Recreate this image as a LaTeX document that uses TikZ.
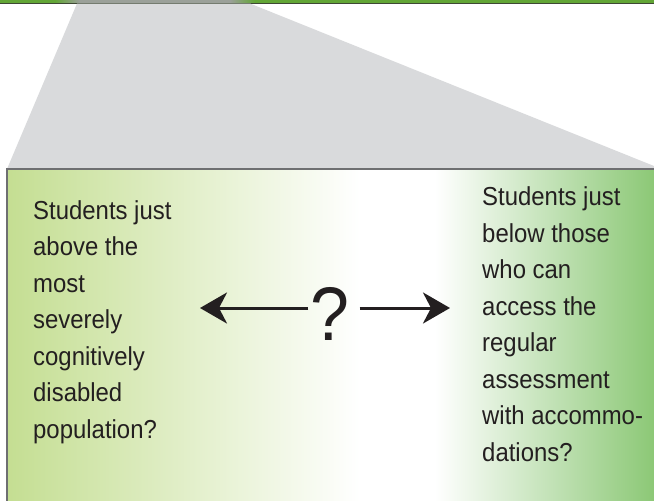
\documentclass[tikz,border=0pt]{standalone}
\usepackage{fontspec}
\setmainfont{Liberation Sans}[FakeStretch=0.92]
\usetikzlibrary{arrows.meta}
\definecolor{boxleft}{RGB}{196,222,146}
\definecolor{boxright}{RGB}{140,200,118}
\definecolor{fadegray}{RGB}{217,218,220}
\definecolor{edgegray}{RGB}{110,111,113}
\definecolor{topgreen}{RGB}{98,166,54}
\definecolor{topdark}{RGB}{62,72,52}
\definecolor{inkgray}{RGB}{35,31,32}

\begin{document}
\begin{tikzpicture}[x=1pt, y=-1pt,
  cohort/.style={inner sep=0pt, align=left, text=inkgray, font=\fontsize{26}{36.5}\selectfont},
  unknown/.style={inner ysep=0pt, inner xsep=2pt, text=inkgray, font=\fontsize{76}{76}\selectfont},
  reach/.style={line width=3pt, draw=inkgray, -{Stealth[length=27pt,width=31pt,inset=8pt]}}]
\useasboundingbox (0,0) rectangle (654,501);
\fill[topgreen] (0,0) rectangle (654,3);
\shade[left color=topgreen, right color=fadegray!60!topdark] (55,0) rectangle (80,3);
\fill[fadegray!60!topdark] (80,0) rectangle (230,3);
\shade[left color=fadegray!60!topdark, right color=topgreen] (230,0) rectangle (255,3);
\draw[topdark, line width=1pt] (0,3) -- (654,3);
\fill[fadegray] (77,3.5) -- (250,3.5) -- (654,166) -- (654,169) -- (7,169) -- cycle;
\shade[left color=boxleft, right color=white] (7,169) rectangle (360,501);
\fill[white] (359,169) rectangle (436,501);
\shade[left color=white, right color=boxright] (435,169) rectangle (654,501);
\draw[edgegray, line width=1.5pt] (654,169) -- (7,169) -- (7,501);

\node[cohort, anchor=north west] (abovesevere) at (33,200) {Students just\\above the\\most\\severely\\cognitively\\disabled\\population?};
\node[cohort, anchor=north west] (belowregular) at (482,186.5) {Students just\\below those\\who can\\access the\\regular\\assessment\\with accommo-\\dations?};
\node[unknown, anchor=base] (gap) at (330,340) {?};
\coordinate (lefttip) at (200,308);
\coordinate (righttip) at (450,308);
\draw[reach] (gap.west |- lefttip) -- (lefttip);
\draw[reach, shorten <=8pt] (gap.east |- righttip) -- (righttip);
\end{tikzpicture}
\end{document}
